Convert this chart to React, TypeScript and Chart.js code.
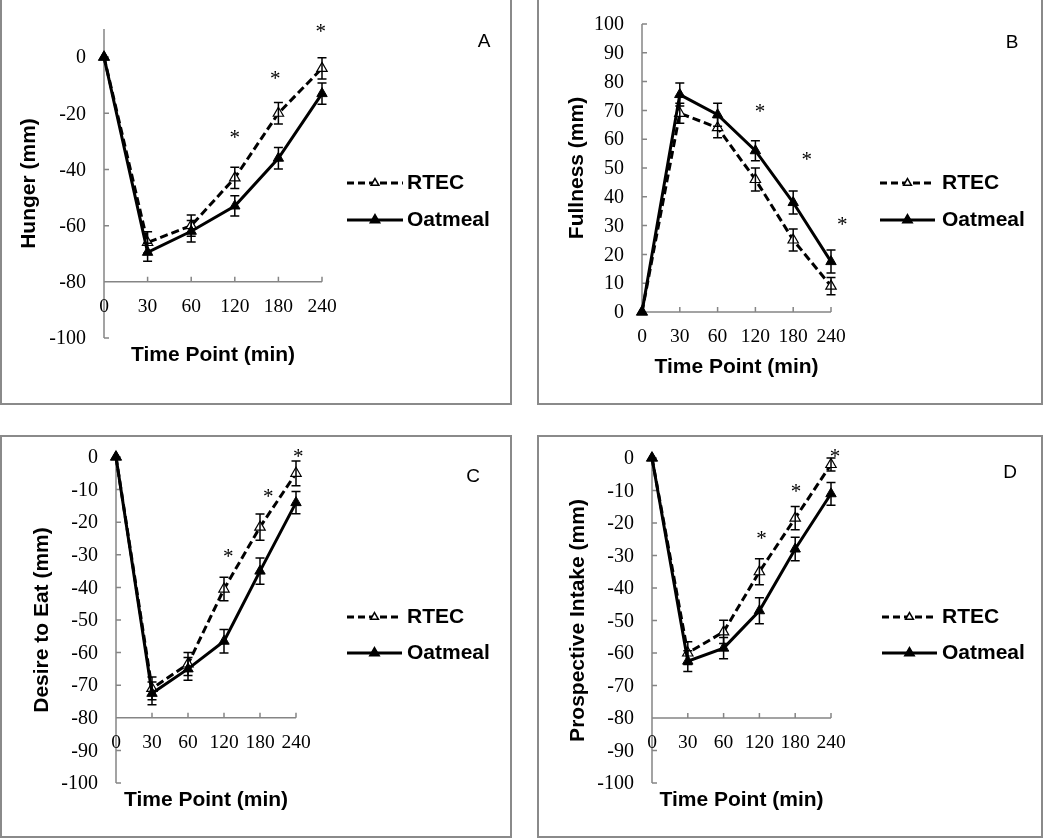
import React, { useEffect, useRef } from 'react';
import { Chart, registerables } from 'chart.js';
Chart.register(...registerables);

// ---------- DATA ----------
const TIME_LABELS = ['0', '30', '60', '120', '180', '240'];
const SERIES_NAMES = ['RTEC', 'Oatmeal'];

// A: Hunger
const HUNGER_RTEC = [0, -66, -60, -43, -20, -4];
const HUNGER_RTEC_ERR = [0, 3.8, 3.8, 3.8, 3.8, 3.8];
const HUNGER_OAT = [0, -69.5, -62, -53, -36, -13];
const HUNGER_OAT_ERR = [0, 3.2, 3.8, 3.6, 3.8, 3.8];
const HUNGER_TICKS = [-100, -80, -60, -40, -20, 0];
const HUNGER_STAR_X = [3, 3.93, 4.97];
const HUNGER_STAR_Y = [-27.7, -6.4, 10.3];

// B: Fullness
const FULL_RTEC = [0, 69, 64, 46, 25, 9];
const FULL_RTEC_ERR = [0, 3.5, 3.5, 4, 3.8, 3];
const FULL_OAT = [0, 75.5, 68.5, 56, 38, 17.5];
const FULL_OAT_ERR = [0, 4, 4, 3.5, 4, 4];
const FULL_TICKS = [0, 10, 20, 30, 40, 50, 60, 70, 80, 90, 100];
const FULL_STAR_X = [3.12, 4.36, 5.3];
const FULL_STAR_Y = [70.7, 53.9, 31.4];

// C: Desire to Eat
const DESIRE_RTEC = [0, -71, -63.5, -40.5, -21.5, -5];
const DESIRE_RTEC_ERR = [0, 3.5, 3.5, 3.6, 4, 3.8];
const DESIRE_OAT = [0, -72.5, -65, -56.5, -35, -14];
const DESIRE_OAT_ERR = [0, 3.5, 3.5, 3.6, 4, 3.4];
const DESIRE_TICKS = [-100, -90, -80, -70, -60, -50, -40, -30, -20, -10, 0];
const DESIRE_STAR_X = [3.12, 4.23, 5.06];
const DESIRE_STAR_Y = [-29.5, -11.1, 1.1];

// D: Prospective Intake
const PROSP_RTEC = [0, -60, -53.5, -35, -18.5, -2];
const PROSP_RTEC_ERR = [0, 3.5, 3.6, 4, 3.6, 2];
const PROSP_OAT = [0, -62.5, -58.5, -47, -28, -11];
const PROSP_OAT_ERR = [0, 3.2, 3.3, 4, 3.6, 3.5];
const PROSP_TICKS = [-100, -90, -80, -70, -60, -50, -40, -30, -20, -10, 0];
const PROSP_STAR_X = [3.06, 4.02, 5.11];
const PROSP_STAR_Y = [-23.7, -9.3, 1.4];

// ---------- PANELS ----------
type PanelCfg = {
  letter: string;
  yTitle: string;
  rtec: number[]; rtecErr: number[];
  oat: number[]; oatErr: number[];
  ticks: number[];
  starX: number[]; starY: number[];
  yMin: number; yMax: number; xCross: number;
  left: number; top: number; width: number; height: number;
  pad: { left: number; right: number; top: number; bottom: number };
  yTitleX: number; xTitleY: number; letterX: number; letterY: number;
  legX1: number; legX2: number; legTextX: number; legY: number[];
};

const PANELS: PanelCfg[] = [
  {
    letter: 'A', yTitle: 'Hunger (mm)',
    rtec: HUNGER_RTEC, rtecErr: HUNGER_RTEC_ERR, oat: HUNGER_OAT, oatErr: HUNGER_OAT_ERR,
    ticks: HUNGER_TICKS, starX: HUNGER_STAR_X, starY: HUNGER_STAR_Y,
    yMin: -100, yMax: 10, xCross: -80,
    left: 0, top: 0, width: 513, height: 405,
    pad: { left: 104, right: 191, top: 29, bottom: 67 },
    yTitleX: 29, xTitleY: 355, letterX: 484, letterY: 42,
    legX1: 347, legX2: 403, legTextX: 407, legY: [183, 220],
  },
  {
    letter: 'B', yTitle: 'Fullness (mm)',
    rtec: FULL_RTEC, rtecErr: FULL_RTEC_ERR, oat: FULL_OAT, oatErr: FULL_OAT_ERR,
    ticks: FULL_TICKS, starX: FULL_STAR_X, starY: FULL_STAR_Y,
    yMin: 0, yMax: 100, xCross: 0,
    left: 537, top: 0, width: 507, height: 405,
    pad: { left: 105, right: 213, top: 24, bottom: 93 },
    yTitleX: 40, xTitleY: 367, letterX: 475, letterY: 43,
    legX1: 343, legX2: 398, legTextX: 405, legY: [183, 220],
  },
  {
    letter: 'C', yTitle: 'Desire to Eat (mm)',
    rtec: DESIRE_RTEC, rtecErr: DESIRE_RTEC_ERR, oat: DESIRE_OAT, oatErr: DESIRE_OAT_ERR,
    ticks: DESIRE_TICKS, starX: DESIRE_STAR_X, starY: DESIRE_STAR_Y,
    yMin: -100, yMax: 0, xCross: -80,
    left: 0, top: 435, width: 513, height: 404,
    pad: { left: 116, right: 217, top: 22, bottom: 56 },
    yTitleX: 42, xTitleY: 365, letterX: 473, letterY: 42,
    legX1: 347, legX2: 402, legTextX: 407, legY: [182, 218],
  },
  {
    letter: 'D', yTitle: 'Prospective Intake (mm)',
    rtec: PROSP_RTEC, rtecErr: PROSP_RTEC_ERR, oat: PROSP_OAT, oatErr: PROSP_OAT_ERR,
    ticks: PROSP_TICKS, starX: PROSP_STAR_X, starY: PROSP_STAR_Y,
    yMin: -100, yMax: 0, xCross: -80,
    left: 537, top: 435, width: 507, height: 404,
    pad: { left: 115, right: 213, top: 23, bottom: 56 },
    yTitleX: 41, xTitleY: 365, letterX: 473, letterY: 38,
    legX1: 345, legX2: 400, legTextX: 405, legY: [182, 218],
  },
];

const AXIS_COLOR = '#858585';
const SERIF = '"Liberation Serif", "Times New Roman", serif';
const SANS = '"Liberation Sans", Arial, sans-serif';

function triangle(ctx: CanvasRenderingContext2D, x: number, y: number, r: number, fill: string) {
  ctx.beginPath();
  let rad = 0;
  ctx.moveTo(x + Math.sin(rad) * r, y - Math.cos(rad) * r);
  rad += (2 * Math.PI) / 3;
  ctx.lineTo(x + Math.sin(rad) * r, y - Math.cos(rad) * r);
  rad += (2 * Math.PI) / 3;
  ctx.lineTo(x + Math.sin(rad) * r, y - Math.cos(rad) * r);
  ctx.closePath();
  ctx.fillStyle = fill;
  ctx.fill();
  ctx.lineWidth = 1.5;
  ctx.strokeStyle = '#000';
  ctx.setLineDash([]);
  ctx.stroke();
}

function makeDecor(cfg: PanelCfg) {
  return {
    id: 'decor' + cfg.letter,
    beforeDatasetsDraw(chart: any) {
      const { ctx } = chart;
      const x = chart.scales.x;
      const y = chart.scales.y;
      const n = TIME_LABELS.length - 1;
      const x0 = x.getPixelForValue(0);
      const xN = x.getPixelForValue(n);
      const yTop = y.getPixelForValue(cfg.yMax);
      const yBot = y.getPixelForValue(cfg.yMin);
      const yC = y.getPixelForValue(cfg.xCross);
      ctx.save();
      ctx.strokeStyle = AXIS_COLOR;
      ctx.lineWidth = 1.5;
      ctx.beginPath();
      ctx.moveTo(x0, yTop); ctx.lineTo(x0, yBot);
      cfg.ticks.forEach((v) => {
        const py = y.getPixelForValue(v);
        ctx.moveTo(x0, py); ctx.lineTo(x0 + 5, py);
      });
      ctx.moveTo(x0, yC); ctx.lineTo(xN, yC);
      for (let i = 1; i <= n; i++) {
        const px = x.getPixelForValue(i);
        ctx.moveTo(px, yC); ctx.lineTo(px, yC - 5);
      }
      ctx.stroke();

      // tick labels
      ctx.fillStyle = '#000';
      ctx.font = `20px ${SERIF}`;
      ctx.textAlign = 'right';
      ctx.textBaseline = 'middle';
      cfg.ticks.forEach((v) => {
        ctx.fillText(String(v), x0 - 18, y.getPixelForValue(v) + 1);
      });
      ctx.font = `19.5px ${SERIF}`;
      ctx.textAlign = 'center';
      TIME_LABELS.forEach((lab, i) => {
        ctx.fillText(lab, x.getPixelForValue(i), yC + 25);
      });

      // titles
      ctx.font = `bold 21px ${SANS}`;
      ctx.textAlign = 'center';
      ctx.fillText('Time Point (min)', (x0 + xN) / 2, cfg.xTitleY);
      ctx.save();
      ctx.translate(cfg.yTitleX, (yTop + yBot) / 2);
      ctx.rotate(-Math.PI / 2);
      ctx.fillText(cfg.yTitle, 0, 0);
      ctx.restore();

      // panel letter
      ctx.font = `19px ${SANS}`;
      ctx.fillText(cfg.letter, cfg.letterX, cfg.letterY);

      // legend
      SERIES_NAMES.forEach((name, k) => {
        const ly = cfg.legY[k];
        ctx.beginPath();
        ctx.lineWidth = 3;
        ctx.strokeStyle = '#000';
        ctx.setLineDash(k === 0 ? [7, 4] : []);
        ctx.moveTo(cfg.legX1, ly); ctx.lineTo(cfg.legX2, ly);
        ctx.stroke();
        ctx.setLineDash([]);
        const mx = (cfg.legX1 + cfg.legX2) / 2;
        if (k === 0) triangle(ctx, mx, ly, 4.5, '#fff');
        else triangle(ctx, mx, ly, 5.5, '#000');
        ctx.fillStyle = '#000';
        ctx.font = `bold 21px ${SANS}`;
        ctx.textAlign = 'left';
        ctx.textBaseline = 'middle';
        ctx.fillText(name, cfg.legTextX, ly);
      });
      ctx.restore();
    },
    afterDatasetsDraw(chart: any) {
      const { ctx } = chart;
      const x = chart.scales.x;
      const y = chart.scales.y;
      ctx.save();
      ctx.strokeStyle = '#000';
      ctx.lineWidth = 1.5;
      ctx.setLineDash([]);
      const bars = (vals: number[], errs: number[]) => {
        vals.forEach((v, i) => {
          if (!errs[i]) return;
          const px = x.getPixelForValue(i);
          const p1 = y.getPixelForValue(v + errs[i]);
          const p2 = y.getPixelForValue(v - errs[i]);
          ctx.beginPath();
          ctx.moveTo(px, p1); ctx.lineTo(px, p2);
          ctx.moveTo(px - 4.5, p1); ctx.lineTo(px + 4.5, p1);
          ctx.moveTo(px - 4.5, p2); ctx.lineTo(px + 4.5, p2);
          ctx.stroke();
        });
      };
      bars(cfg.rtec, cfg.rtecErr);
      bars(cfg.oat, cfg.oatErr);

      ctx.fillStyle = '#000';
      ctx.font = `21px ${SERIF}`;
      ctx.textAlign = 'center';
      ctx.textBaseline = 'middle';
      cfg.starX.forEach((sx, i) => {
        ctx.fillText('*', x.getPixelForValue(sx), y.getPixelForValue(cfg.starY[i]) + 4);
      });
      ctx.restore();
    },
  };
}

function Panel({ cfg }: { cfg: PanelCfg }) {
  const ref = useRef<HTMLCanvasElement | null>(null);
  useEffect(() => {
    if (!ref.current) return;
    const chart = new Chart(ref.current, {
      type: 'line',
      data: {
        datasets: [
          {
            label: SERIES_NAMES[0],
            data: cfg.rtec.map((v, i) => ({ x: i, y: v })),
            borderColor: '#000',
            borderWidth: 3,
            borderDash: [8, 4],
            pointStyle: 'triangle',
            pointRadius: 6,
            pointBackgroundColor: '#fff',
            pointBorderColor: '#000',
            pointBorderWidth: 1.2,
            tension: 0,
            clip: false,
            order: 1,
          } as any,
          {
            label: SERIES_NAMES[1],
            data: cfg.oat.map((v, i) => ({ x: i, y: v })),
            borderColor: '#000',
            borderWidth: 3,
            pointStyle: 'triangle',
            pointRadius: 6,
            pointBackgroundColor: '#000',
            pointBorderColor: '#000',
            pointBorderWidth: 1,
            tension: 0,
            clip: false,
            order: 0,
          } as any,
        ],
      },
      options: {
        responsive: false,
        animation: false,
        events: [],
        layout: { padding: cfg.pad },
        plugins: { legend: { display: false }, tooltip: { enabled: false } },
        scales: {
          x: { type: 'linear', min: 0, max: TIME_LABELS.length - 1, display: false },
          y: { type: 'linear', min: cfg.yMin, max: cfg.yMax, display: false },
        },
      },
      plugins: [makeDecor(cfg)],
    });
    return () => chart.destroy();
  }, [cfg]);
  return (
    <canvas
      ref={ref}
      width={cfg.width}
      height={cfg.height}
      style={{ position: 'absolute', left: cfg.left, top: cfg.top, width: cfg.width, height: cfg.height }}
    />
  );
}

const BOXES = [
  { left: 0, top: -2, width: 512, height: 407 },
  { left: 537, top: -2, width: 506, height: 407 },
  { left: 0, top: 435, width: 512, height: 403 },
  { left: 537, top: 435, width: 506, height: 403 },
];

export default function App() {
  return (
    <div style={{ position: 'absolute', left: 0, top: 0, width: 1050, height: 839, background: '#fff', overflow: 'hidden' }}>
      {BOXES.map((b, i) => (
        <div
          key={'b' + i}
          style={{
            position: 'absolute', left: b.left, top: b.top, width: b.width, height: b.height,
            boxSizing: 'border-box', border: '2px solid #8a8a8a',
          }}
        />
      ))}
      {PANELS.map((p) => (
        <Panel key={p.letter} cfg={p} />
      ))}
    </div>
  );
}
